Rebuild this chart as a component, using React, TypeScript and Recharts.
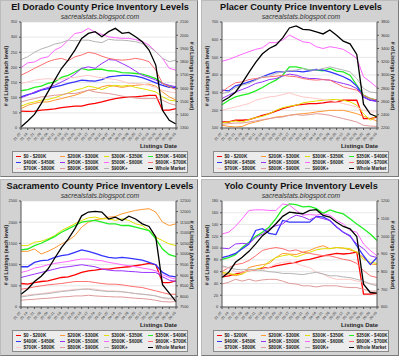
import React from "react";
import { LineChart, Line, XAxis, YAxis, CartesianGrid } from "recharts";

const DATES = [
  "01-07", "01-14", "01-21", "01-28", "02-04", "02-11", "02-18", "02-25",
  "03-03", "03-10", "03-17", "03-24", "03-31", "04-07", "04-14", "04-21",
  "04-28", "05-05", "05-12", "05-19", "05-26", "06-02", "06-09", "06-16",
];

const BANDS = [
  "$0 - $200K", "$200K - $300K", "$300K - $350K", "$350K - $400K",
  "$400K - $450K", "$450K - $500K", "$500K - $600K", "$600K - $700K",
  "$700K - $800K", "$800K - $900K", "$900K+",
];

const COLORS = [
  "#ff0000", "#ff9933", "#e0e000", "#22ee22", "#3333ff", "#9933ff",
  "#ff66ff", "#ff6f6f", "#ffc8c8", "#e09a9a", "#b4b4b4",
];

// El Dorado
const ed0_200 = [56, 55, 56, 59, 61, 63, 67, 70, 72, 72, 78, 81, 86, 92, 97, 100, 103, 103, 105, 108, 108, 59, 59, 64];
const ed200_300 = [64, 75, 81, 86, 86, 92, 97, 103, 108, 116, 125, 127, 136, 141, 138, 134, 138, 141, 143, 145, 138, 119, 103, 92];
const ed300_350 = [72, 81, 86, 92, 94, 100, 108, 116, 125, 130, 138, 134, 127, 136, 141, 138, 141, 134, 130, 125, 119, 103, 92, 89];
const ed350_400 = [123, 127, 134, 138, 147, 152, 167, 174, 185, 197, 191, 194, 194, 189, 188, 183, 182, 180, 178, 171, 163, 147, 138, 132];
const ed400_450 = [103, 110, 116, 125, 130, 136, 141, 147, 152, 158, 156, 155, 160, 169, 171, 174, 174, 171, 166, 158, 149, 141, 134, 134];
const ed450_500 = [100, 108, 119, 127, 134, 141, 152, 163, 178, 197, 202, 197, 213, 226, 224, 213, 202, 188, 174, 167, 158, 147, 141, 136];
const ed500_600 = [199, 215, 218, 230, 235, 257, 268, 290, 312, 316, 329, 316, 309, 301, 298, 296, 296, 292, 285, 274, 252, 230, 197, 191];
const ed600_700 = [174, 185, 197, 208, 219, 226, 230, 222, 235, 241, 250, 246, 237, 230, 226, 224, 226, 230, 226, 219, 191, 147, 136, 127];
const ed700_800 = [147, 152, 158, 161, 163, 161, 161, 166, 167, 171, 174, 169, 166, 163, 160, 155, 147, 147, 145, 141, 134, 125, 119, 116];
const ed800_900 = [86, 92, 97, 103, 105, 108, 110, 114, 114, 119, 125, 119, 116, 114, 110, 105, 103, 99, 97, 97, 97, 92, 81, 75];
const ed900 = [226, 235, 250, 261, 268, 277, 282, 290, 288, 290, 290, 285, 282, 293, 290, 290, 288, 285, 279, 268, 252, 230, 219, 224];
const edWhole = [1308, 1353, 1403, 1484, 1573, 1661, 1749, 1812, 1888, 1976, 2014, 2027, 1989, 2027, 2052, 2014, 2022, 1989, 1951, 1888, 1775, 1434, 1358, 1330];

// Placer
const pl0_200 = [134, 134, 144, 144, 147, 159, 172, 181, 195, 210, 219, 229, 234, 238, 238, 242, 248, 248, 257, 257, 257, 153, 153, 162];
const pl200_300 = [115, 109, 106, 109, 125, 134, 144, 153, 162, 166, 172, 178, 181, 185, 191, 195, 200, 200, 200, 191, 181, 166, 153, 140];
const pl300_350 = [128, 134, 140, 134, 147, 159, 166, 181, 200, 215, 223, 229, 242, 248, 253, 257, 261, 261, 257, 248, 229, 181, 144, 172];
const pl350_400 = [232, 257, 276, 286, 295, 310, 329, 352, 371, 399, 446, 446, 437, 428, 428, 424, 437, 422, 418, 399, 342, 286, 267, 257];
const pl400_450 = [314, 310, 339, 348, 361, 374, 390, 405, 418, 418, 422, 422, 418, 424, 431, 428, 418, 405, 390, 371, 337, 276, 257, 257];
const pl450_500 = [267, 286, 304, 318, 333, 352, 361, 374, 380, 393, 405, 399, 386, 380, 380, 374, 371, 361, 352, 342, 323, 276, 257, 248];
const pl500_600 = [478, 488, 503, 518, 532, 545, 554, 583, 583, 598, 626, 607, 588, 583, 560, 550, 560, 554, 545, 522, 494, 390, 361, 329];
const pl600_700 = [304, 333, 356, 361, 374, 380, 386, 390, 393, 399, 393, 390, 380, 374, 371, 374, 371, 352, 333, 323, 314, 286, 267, 257];
const pl700_800 = [200, 210, 219, 229, 238, 257, 267, 276, 280, 289, 299, 286, 276, 272, 267, 261, 257, 248, 238, 229, 219, 200, 191, 191];
const pl800_900 = [121, 125, 128, 128, 134, 140, 147, 153, 159, 162, 172, 176, 172, 176, 181, 178, 172, 162, 153, 144, 134, 115, 111, 109];
const pl900 = [295, 304, 329, 342, 352, 371, 390, 393, 409, 418, 424, 428, 437, 428, 428, 437, 446, 437, 428, 418, 380, 323, 304, 299];
const plWhole = [2600, 2660, 2740, 2880, 3040, 3190, 3320, 3400, 3450, 3560, 3710, 3740, 3690, 3680, 3650, 3620, 3680, 3600, 3510, 3470, 3310, 2560, 2410, 2370];

// Sacramento
const sa0_200 = [554, 538, 577, 601, 617, 657, 696, 712, 759, 815, 854, 870, 894, 894, 918, 933, 949, 973, 997, 1028, 997, 577, 577, 617];
const sa200_300 = [1313, 1313, 1368, 1250, 1313, 1392, 1487, 1566, 1685, 1883, 2001, 2057, 2080, 2120, 2136, 2199, 2239, 2278, 2302, 2318, 2239, 2001, 1922, 1962];
const sa300_350 = [1448, 1448, 1527, 1550, 1606, 1685, 1803, 1883, 1962, 2041, 2104, 2120, 2080, 2080, 2041, 2080, 2041, 1962, 1922, 1803, 1645, 1566, 1487, 1448];
const sa350_400 = [1345, 1368, 1448, 1503, 1582, 1661, 1764, 1843, 1922, 2001, 2025, 2041, 2001, 1962, 1962, 1922, 1922, 1883, 1843, 1803, 1606, 1368, 1234, 1187];
const sa400_450 = [949, 949, 1052, 1092, 1107, 1171, 1210, 1234, 1289, 1345, 1313, 1266, 1210, 1171, 1155, 1171, 1155, 1131, 1107, 1052, 997, 815, 736, 712];
const sa450_500 = [696, 736, 775, 815, 854, 894, 933, 949, 973, 997, 973, 949, 894, 870, 854, 854, 839, 831, 815, 815, 815, 712, 633, 601];
const sa500_600 = [815, 854, 918, 949, 997, 1028, 1052, 1076, 1107, 1131, 1131, 1107, 1092, 1052, 1028, 997, 973, 949, 918, 894, 854, 759, 696, 657];
const sa600_700 = [419, 443, 475, 498, 522, 538, 554, 577, 601, 601, 601, 577, 554, 538, 538, 522, 498, 475, 459, 419, 380, 340, 301, 301];
const sa700_800 = [261, 285, 301, 316, 340, 364, 380, 396, 419, 419, 435, 419, 396, 380, 380, 364, 340, 316, 301, 285, 261, 206, 182, 182];
const sa800_900 = [158, 174, 182, 198, 206, 221, 237, 245, 261, 261, 277, 261, 253, 245, 237, 237, 221, 206, 198, 182, 158, 127, 119, 127];
const sa900 = [237, 261, 285, 301, 316, 340, 364, 380, 396, 419, 419, 396, 380, 364, 364, 356, 340, 316, 301, 285, 261, 221, 206, 221];
const saWhole = [8100, 8350, 8700, 8950, 9290, 9800, 10300, 10700, 11200, 11800, 11980, 12010, 11980, 11650, 11740, 11580, 11780, 11650, 11420, 11300, 10800, 8550, 8150, 7750];

// Yolo
const yo0_200 = [51, 53, 56, 59, 62, 63, 66, 67, 70, 72, 74, 76, 79, 81, 84, 87, 89, 91, 90, 91, 93, 22, 22, 23];
const yo200_300 = [56, 56, 53, 56, 67, 70, 72, 74, 84, 91, 90, 89, 93, 96, 101, 104, 99, 101, 100, 97, 93, 84, 73, 72];
const yo300_350 = [59, 57, 55, 56, 62, 64, 67, 77, 84, 87, 89, 85, 89, 93, 97, 99, 99, 101, 100, 99, 93, 81, 76, 74];
const yo350_400 = [81, 84, 89, 101, 110, 120, 127, 136, 150, 167, 175, 174, 170, 171, 167, 159, 165, 161, 158, 150, 141, 133, 124, 113];
const yo400_450 = [84, 87, 91, 99, 107, 130, 133, 125, 123, 147, 144, 144, 144, 144, 154, 153, 147, 136, 127, 121, 104, 87, 72, 84];
const yo450_500 = [100, 99, 107, 108, 107, 118, 124, 133, 138, 141, 150, 156, 153, 148, 153, 150, 147, 136, 127, 120, 107, 99, 87, 84];
const yo500_600 = [124, 127, 137, 150, 164, 165, 165, 164, 164, 175, 173, 164, 156, 157, 156, 158, 156, 147, 141, 130, 127, 107, 96, 87];
const yo600_700 = [60, 67, 72, 74, 79, 87, 96, 99, 101, 99, 95, 97, 93, 91, 89, 87, 87, 84, 81, 79, 74, 62, 53, 50];
const yo700_800 = [67, 66, 60, 59, 62, 63, 64, 67, 73, 76, 77, 74, 70, 67, 59, 56, 50, 47, 47, 47, 44, 42, 40, 38];
const yo800_900 = [39, 42, 47, 44, 47, 44, 46, 47, 47, 44, 40, 39, 36, 36, 34, 36, 36, 36, 34, 33, 33, 30, 27, 27];
const yo900 = [70, 67, 64, 63, 64, 63, 62, 60, 59, 57, 57, 56, 55, 57, 59, 56, 53, 53, 51, 50, 47, 44, 39, 36];
const yoWhole = [767, 796, 853, 881, 915, 957, 1004, 1033, 1071, 1113, 1137, 1132, 1128, 1147, 1151, 1118, 1109, 1080, 1056, 1042, 999, 729, 682, 678];

const edLeftTicks = [0, 50, 100, 150, 200, 250, 300, 350];
const edRightTicks = [1300, 1400, 1500, 1600, 1700, 1800, 1900, 2000, 2100];
const plLeftTicks = [100, 200, 300, 400, 500, 600, 700];
const plRightTicks = [2200, 2400, 2600, 2800, 3000, 3200, 3400, 3600, 3800];
const saLeftTicks = [0, 500, 1000, 1500, 2000, 2500];
const saRightTicks = [7500, 8000, 8500, 9000, 9500, 10000, 10500, 11000, 11500, 12000, 12500];
const yoLeftTicks = [0, 20, 40, 60, 80, 100, 120, 140, 160, 180];
const yoRightTicks = [600, 700, 800, 900, 1000, 1100, 1200];

const FONT = "Arial, 'Liberation Sans', sans-serif";
const PW = 198;
const PH = 177;

const DateTick = ({ x, y, payload }: any) => (
  <text
    x={x}
    y={y + 2}
    transform={`rotate(-50 ${x} ${y + 2})`}
    textAnchor="end"
    fontSize={3.6}
    fill="#333"
    fontFamily={FONT}
  >
    {payload.value}
  </text>
);

function Panel({
  x,
  y,
  title,
  series,
  whole,
  leftTicks,
  rightTicks,
}: {
  x: number;
  y: number;
  title: string;
  series: number[][];
  whole: number[];
  leftTicks: number[];
  rightTicks: number[];
}) {
  const data = DATES.map((d, i) => {
    const row: any = { date: d, whole: whole[i] };
    series.forEach((s, k) => (row["b" + k] = s[i]));
    return row;
  });
  const legendItems = [
    ...BANDS.map((b, k) => ({ name: b, color: COLORS[k] })),
    { name: "Whole Market", color: "#000" },
  ];

  return (
    <div
      style={{
        position: "absolute",
        left: x,
        top: y,
        width: PW,
        height: PH,
        background: "#d2d2d2",
        borderRight: "1px solid #7a7a7a",
        borderBottom: "1px solid #7a7a7a",
        borderTop: "1px solid #bbb",
        borderLeft: "1px solid #bbb",
        boxSizing: "border-box",
        fontFamily: FONT,
        overflow: "hidden",
      }}
    >
      <div
        style={{
          position: "absolute",
          left: 0,
          top: 1,
          width: PW,
          textAlign: "center",
          fontSize: 9.2,
          fontWeight: "bold",
          color: "#111",
          lineHeight: "10px",
        }}
      >
        {title}
      </div>
      <div
        style={{
          position: "absolute",
          left: 0,
          top: 12,
          width: PW,
          textAlign: "center",
          fontSize: 6.8,
          fontStyle: "italic",
          color: "#333",
          lineHeight: "8px",
        }}
      >
        sacrealstats.blogspot.com
      </div>
      <LineChart
        width={PW - 2}
        height={PH - 2}
        data={data}
        margin={{ top: 21, right: 0, left: 0, bottom: 0 }}
        style={{ position: "absolute", left: 0, top: 0 }}
      >
        <CartesianGrid
          yAxisId="left"
          vertical={false}
          stroke="#d6d6d6"
          fill="#ffffff"
          strokeWidth={0.6}
        />
        <XAxis
          dataKey="date"
          height={48}
          interval={0}
          tick={<DateTick />}
          tickSize={2}
          stroke="#555"
          padding={{ left: 0, right: 0 }}
        />
        <YAxis
          yAxisId="left"
          width={20}
          domain={[leftTicks[0], leftTicks[leftTicks.length - 1]]}
          ticks={leftTicks}
          interval={0}
          tick={{ fontSize: 3.8, fill: "#333", fontFamily: FONT }}
          tickSize={2}
          stroke="#555"
        />
        <YAxis
          yAxisId="right"
          orientation="right"
          width={21}
          domain={[rightTicks[0], rightTicks[rightTicks.length - 1]]}
          ticks={rightTicks}
          interval={0}
          tick={{ fontSize: 3.8, fill: "#333", fontFamily: FONT }}
          tickSize={2}
          stroke="#555"
        />
        {series.map((_, k) => (
          <Line
            key={k}
            yAxisId="left"
            type="linear"
            dataKey={"b" + k}
            stroke={COLORS[k]}
            strokeWidth={k === 0 || k === 4 || k === 3 ? 1.3 : 1}
            dot={false}
            isAnimationActive={false}
          />
        ))}
        <Line
          yAxisId="right"
          type="linear"
          dataKey="whole"
          stroke="#000"
          strokeWidth={1.3}
          dot={false}
          isAnimationActive={false}
        />
      </LineChart>
      <div
        style={{
          position: "absolute",
          left: 5 - 55,
          top: 75 - 4,
          width: 110,
          height: 8,
          lineHeight: "8px",
          textAlign: "center",
          fontSize: 5.2,
          fontWeight: "bold",
          color: "#222",
          transform: "rotate(-90deg)",
        }}
      >
        # of Listings (each level)
      </div>
      <div
        style={{
          position: "absolute",
          left: 191 - 55,
          top: 75 - 4,
          width: 110,
          height: 8,
          lineHeight: "8px",
          textAlign: "center",
          fontSize: 5.2,
          fontWeight: "bold",
          color: "#222",
          transform: "rotate(90deg)",
        }}
      >
        # of Listings (whole market)
      </div>
      <div
        style={{
          position: "absolute",
          left: 139,
          top: 142,
          fontSize: 5.9,
          fontWeight: "bold",
          color: "#222",
          lineHeight: "7px",
        }}
      >
        Listings Date
      </div>
      <div
        style={{
          position: "absolute",
          left: 11,
          top: 150,
          width: 176,
          height: 22,
          background: "#ececec",
          border: "1px solid #8a8a8a",
          boxSizing: "border-box",
        }}
      >
        {legendItems.map((it, i) => {
          const col = i % 4;
          const row = Math.floor(i / 4);
          return (
            <div
              key={it.name}
              style={{
                position: "absolute",
                left: 3 + col * 44,
                top: 1.5 + row * 6,
                height: 6,
                display: "flex",
                alignItems: "center",
                fontSize: 4.6,
                fontWeight: "bold",
                color: "#222",
                whiteSpace: "nowrap",
              }}
            >
              <span
                style={{
                  display: "inline-block",
                  width: 5,
                  height: 1.5,
                  background: it.color,
                  marginRight: 2.5,
                }}
              />
              {it.name}
            </div>
          );
        })}
      </div>
    </div>
  );
}

export default function App() {
  return (
    <div
      style={{
        position: "absolute",
        left: 0,
        top: 0,
        width: 400,
        height: 356,
        background: "#ffffff",
      }}
    >
      <Panel
        x={0}
        y={0}
        title="El Dorado County Price Inventory Levels"
        series={[ed0_200, ed200_300, ed300_350, ed350_400, ed400_450, ed450_500, ed500_600, ed600_700, ed700_800, ed800_900, ed900]}
        whole={edWhole}
        leftTicks={edLeftTicks}
        rightTicks={edRightTicks}
      />
      <Panel
        x={201}
        y={0}
        title="Placer County Price Inventory Levels"
        series={[pl0_200, pl200_300, pl300_350, pl350_400, pl400_450, pl450_500, pl500_600, pl600_700, pl700_800, pl800_900, pl900]}
        whole={plWhole}
        leftTicks={plLeftTicks}
        rightTicks={plRightTicks}
      />
      <Panel
        x={0}
        y={179}
        title="Sacramento County Price Inventory Levels"
        series={[sa0_200, sa200_300, sa300_350, sa350_400, sa400_450, sa450_500, sa500_600, sa600_700, sa700_800, sa800_900, sa900]}
        whole={saWhole}
        leftTicks={saLeftTicks}
        rightTicks={saRightTicks}
      />
      <Panel
        x={201}
        y={179}
        title="Yolo County Price Inventory Levels"
        series={[yo0_200, yo200_300, yo300_350, yo350_400, yo400_450, yo450_500, yo500_600, yo600_700, yo700_800, yo800_900, yo900]}
        whole={yoWhole}
        leftTicks={yoLeftTicks}
        rightTicks={yoRightTicks}
      />
    </div>
  );
}
